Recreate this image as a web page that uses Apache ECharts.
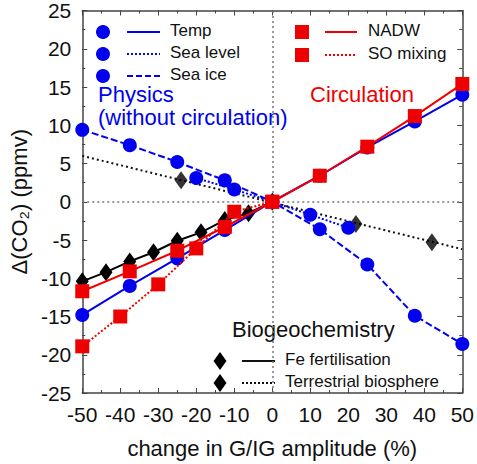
<!DOCTYPE html>
<html><head><meta charset="utf-8">
<script src="https://cdn.jsdelivr.net/npm/echarts@6/dist/echarts.min.js"></script>
<style>html,body{margin:0;padding:0;background:#fff}#c{width:477px;height:464px}</style>
</head><body><div id="c"></div>
<script>
// x positions and values (ppmv)
const xPhys = [-50, -37.5, -25, -12.5, 0, 12.5, 25, 37.5, 50];
const temp = [-14.8, -11.0, -7.4, -3.7, 0, 3.4, 7.1, 10.5, 14.0];
const seaIce = [9.4, 7.4, 5.2, 2.8, 0, -3.6, -8.2, -14.9, -18.6];
const xSeaLevel = [-20, -10, 0, 10, 20];
const seaLevel = [3.1, 1.6, 0, -1.7, -3.4];
const nadw = [-11.7, -9.1, -6.4, -3.3, 0, 3.4, 7.2, 11.2, 15.4];
const xSO = [-50, -40, -30, -20, -10, 0];
const soMix = [-18.9, -15.0, -10.8, -6.1, -1.3, 0];
const xFe = [-50, -43.75, -37.5, -31.25, -25, -18.75, -12.5, -6.25, 0];
const fe = [-10.4, -9.2, -7.8, -6.6, -5.1, -4.0, -2.4, -1.5, 0];
const xTerrLine = [-50, 50];
const terrLine = [6.0, -6.2];
const xTerr = [-24, 22, 42];
const terr = [2.8, -2.9, -5.3];

const BLUE = '#0000ee', RED = '#ee0000';
const zip = (xs, ys) => xs.map((x, i) => [x, ys[i]]);
const FONT = 'Liberation Sans, Arial, sans-serif';

const chart = echarts.init(document.getElementById('c'), null, {renderer: 'svg'});
const axisCommon = {
  type: 'value',
  axisLine: {show: true, onZero: false, lineStyle: {color: '#444', width: 1.5}},
  axisTick: {show: true, inside: true, length: 5, lineStyle: {color: '#444'}},
  minorTick: {show: true, splitNumber: 2, length: 3, lineStyle: {color: '#444'}},
  splitLine: {show: false},
  axisLabel: {color: '#111', fontSize: 21, fontFamily: FONT}
};
function line(name, xs, ys, color, type, symbol, size, z) {
  return {
    name, type: 'line', data: zip(xs, ys), symbol, symbolSize: size,
    itemStyle: {color}, lineStyle: {color, width: 2, type},
    z, animation: false
  };
}
const option = {
  animation: false,
  grid: {left: 80, right: 12, top: 9, bottom: 62},
  xAxis: [
    Object.assign({}, axisCommon, {min: -50, max: 50, interval: 10, position: 'bottom',
      axisLabel: Object.assign({}, axisCommon.axisLabel, {margin: 11}),
      name: 'change in G/IG amplitude (%)', nameLocation: 'middle', nameGap: 44,
      nameTextStyle: {fontSize: 22, color: '#111', fontFamily: FONT}}),
    Object.assign({}, axisCommon, {min: -50, max: 50, interval: 10, position: 'top', axisLabel: {show: false}})
  ],
  yAxis: [
    Object.assign({}, axisCommon, {min: -25, max: 25, interval: 5, position: 'left',
      axisLabel: Object.assign({}, axisCommon.axisLabel, {margin: 11}),
      name: 'Δ(CO₂) (ppmv)', nameLocation: 'middle', nameGap: 50, nameRotate: 90,
      nameTextStyle: {fontSize: 22, color: '#111', fontFamily: FONT}}),
    Object.assign({}, axisCommon, {min: -25, max: 25, interval: 5, position: 'right', axisLabel: {show: false}})
  ],
  series: [
    {type: 'line', data: [], markLine: {silent: true, symbol: 'none', label: {show: false},
      lineStyle: {color: '#777', type: [2, 3], width: 1.5},
      data: [{xAxis: 0}, {yAxis: 0}]}},
    line('Terrestrial line', xTerrLine, terrLine, '#111', [2, 3], 'none', 0, 3),
    {name: 'Terrestrial biosphere', type: 'scatter', data: zip(xTerr, terr), symbol: 'diamond', symbolSize: [13, 18], itemStyle: {color: '#000'}, z: 5},
    line('Fe fertilisation', xFe, fe, '#000', 'solid', 'diamond', [13, 18], 4),
    line('Sea level', xSeaLevel, seaLevel, BLUE, [2, 2], 'circle', 14, 5),
    line('Sea ice', xPhys, seaIce, BLUE, [7, 3], 'circle', 14, 5),
    line('Temp', xPhys, temp, BLUE, 'solid', 'circle', 14, 5),
    line('SO mixing', xSO, soMix, RED, [2, 2], 'rect', 14, 6),
    line('NADW', xPhys, nadw, RED, 'solid', 'rect', 14, 6)
  ],
  graphic: []
};
const g = [];
function txt(x, y, s, size, color) {
  g.push({type: 'text', left: x, top: y - size * 0.6, style: {text: s, fontSize: size, fontFamily: FONT, fill: color}});
}
function seg(x1, x2, y, color, dash) {
  g.push({type: 'line', shape: {x1, y1: y, x2, y2: y}, style: {stroke: color, lineWidth: 2, lineDash: dash}});
}
[[32, 'solid', 'Temp'], [54, [2, 2], 'Sea level'], [76, [6, 3], 'Sea ice']].forEach(([y, d, s]) => {
  g.push({type: 'circle', shape: {cx: 103, cy: y, r: 7}, style: {fill: BLUE}});
  seg(127, 160, y, BLUE, d === 'solid' ? null : d);
  txt(170, y, s, 17, '#111');
});
[[32, 'solid', 'NADW'], [55, [2, 2], 'SO mixing']].forEach(([y, d, s]) => {
  g.push({type: 'rect', shape: {x: 295, y: y - 7, width: 14, height: 14}, style: {fill: RED}});
  seg(325, 357, y, RED, d === 'solid' ? null : d);
  txt(368, y, s, 17, '#111');
});
txt(98, 97, 'Physics', 22, BLUE);
txt(98, 120, '(without circulation)', 22, BLUE);
txt(310, 97, 'Circulation', 22, RED);
txt(232, 332, 'Biogeochemistry', 22, '#111');
[[361, 'solid', 'Fe fertilisation'], [383, [2, 2], 'Terrestrial biosphere']].forEach(([y, d, s]) => {
  g.push({type: 'polygon', shape: {points: [[220, y - 9], [226.5, y], [220, y + 9], [213.5, y]]}, style: {fill: '#000'}});
  seg(242, 275, y, '#111', d === 'solid' ? null : d);
  txt(285, y, s, 17, '#111');
});
option.graphic = g;
chart.setOption(option);
</script></body></html>
